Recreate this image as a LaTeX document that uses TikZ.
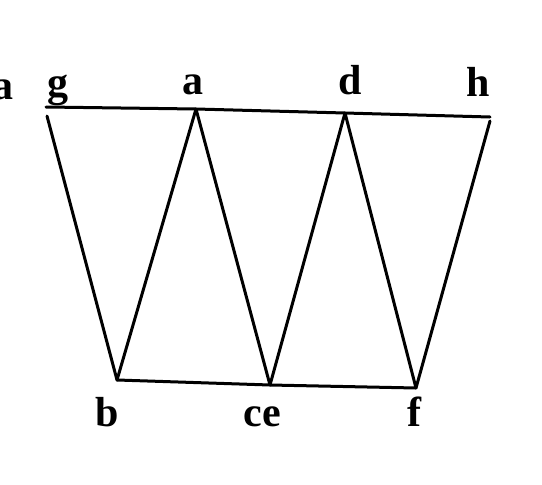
\documentclass[tikz,border=0pt]{standalone}
\usepackage{fontspec}
\setmainfont{Liberation Serif}
\begin{document}
\begin{tikzpicture}[x=1pt,y=-1pt,
  edge/.style={line width=3pt,line cap=round,line join=round},
  lbl/.style={font=\fontsize{42}{42}\selectfont\bfseries,inner sep=0pt,anchor=base}]
\useasboundingbox (0,0) rectangle (542,485);
\coordinate (g) at (46,107);
\coordinate (gl) at (47,116);
\coordinate (a) at (196,109);
\coordinate (d) at (345,113);
\coordinate (h) at (490,117);
\coordinate (hl) at (490,121);
\coordinate (b) at (117,380);
\coordinate (ce) at (270,385);
\coordinate (f) at (416,388);
\draw[edge] (g) -- (a) -- (d) -- (h);
\draw[edge] (b) -- (ce) -- (f);
\draw[edge] (gl) -- (b) -- (a) -- (ce) -- (d) -- (f) -- (hl);
\node[lbl] (lg) at (58,96) {g};
\node[lbl] (la) at (193,94) {a};
\node[lbl] (ld) at (350,94) {d};
\node[lbl] (lh) at (478,96) {h};
\node[lbl] (lb) at (107,426) {b};
\node[lbl] (lce) at (262,426) {ce};
\node[lbl] (lf) at (414,426) {f};
\node[lbl,anchor=base east] (edge1) at (14,99) {a};
\end{tikzpicture}
\end{document}
